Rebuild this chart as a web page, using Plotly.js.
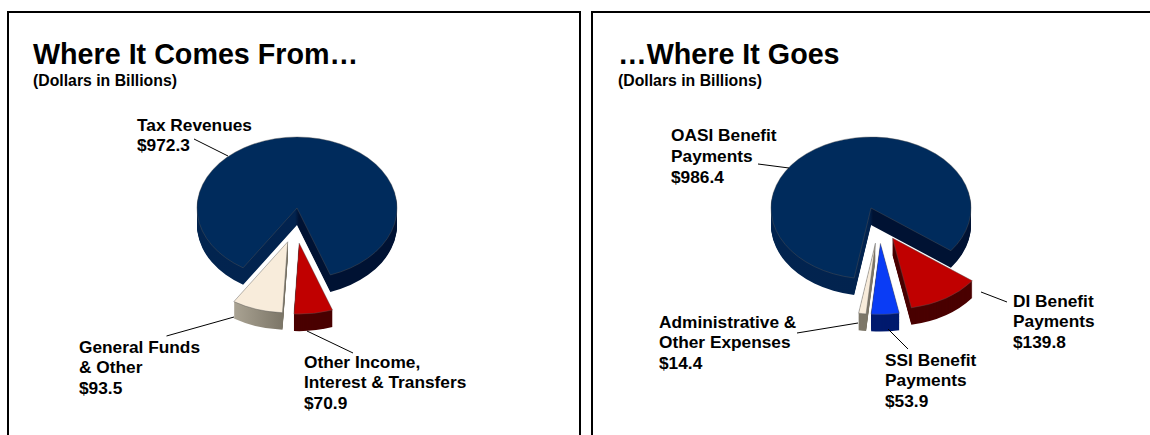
<!DOCTYPE html>
<html>
<head>
<meta charset="utf-8">
<script src="https://cdn.plot.ly/plotly-3.0.1.min.js"></script>
<style>html,body{margin:0;padding:0;background:#fff;overflow:hidden}</style>
</head>
<body>
<div id="chart" style="width:1150px;height:435px"></div>
<script>
// Data
const incomeLabels = ["Tax Revenues", "Other Income,<br>Interest & Transfers", "General Funds<br>& Other"];
const incomeValues = [972.3, 70.9, 93.5];
const costLabels = ["OASI Benefit<br>Payments", "DI Benefit<br>Payments", "SSI Benefit<br>Payments", "Administrative &<br>Other Expenses"];
const costValues = [986.4, 139.8, 53.9, 14.4];

// Styling
const incomeTop = ["#002b5c", "#c00000", "#f8ecdb"];
const incomeWall = ["url(#wallNavy)", "#4a0000", "url(#wallCream)"];
const incomePull = [0, 0.5, 0.5];
const incomeNudge = [0, -5, 6];
const costTop = ["#002b5c", "#c00000", "#0a3cf5", "#f8ecdb"];
const costWall = ["url(#wallNavy)", "#4a0000", "#001a6e", "#7d7769"];
const costPull = [0, 0.5, 0.5, 0.5];
const costNudge = [0, -5, 7, 11];

const W = 1150, H = 435, R = 100, DEPTH = 17, FLAT = 0.71, LINE = 20.8;
const px = x => x / W, py = y => 1 - y / H;

const pies = [
  {labels: incomeLabels, values: incomeValues, top: incomeTop, wall: incomeWall, pull: incomePull, nudge: incomeNudge, cx: 297, cy: 208, rotation: 212.6},
  {labels: costLabels, values: costValues, top: costTop, wall: costWall, pull: costPull, nudge: costNudge, cx: 871, cy: 208, rotation: 189.7}
];

const traces = [], meta = [];
pies.forEach(p => {
  const half = R * 1.5;
  for (let k = DEPTH; k >= 0; k--) {
    traces.push({
      type: "pie", labels: p.labels, values: p.values, sort: false, direction: "clockwise",
      rotation: p.rotation, pull: p.pull, textinfo: "none", hoverinfo: "skip", showlegend: false,
      domain: {x: [px(p.cx - half), px(p.cx + half)], y: [py(p.cy + half), py(p.cy - half)]},
      marker: {
        colors: k === 0 ? p.top : p.top.map(() => "#001233"),
        line: {width: k === 0 ? 0.5 : 0, color: "#555"}
      }
    });
    meta.push({k, p});
  }
});

const panel = (x0, x1) => ({type: "rect", xref: "paper", yref: "paper",
  x0: px(x0), x1: px(x1), y0: py(12), y1: py(445), line: {color: "#000", width: 2}, fillcolor: "rgba(0,0,0,0)", layer: "below"});
const leader = (x0, y0, x1, y1) => ({type: "line", xref: "paper", yref: "paper",
  x0: px(x0), y0: py(y0), x1: px(x1), y1: py(y1), line: {color: "#000", width: 1}});

const shapes = [
  panel(8, 580), panel(592, 1165),
  leader(194, 139, 228, 156), leader(166.5, 336, 234, 317), leader(307, 331, 353, 353),
  leader(758, 164, 789, 168), leader(981, 292, 1007, 302), leader(888, 329, 908, 349), leader(797, 333, 858, 323)
];

const FONT = "Liberation Sans, Arial, sans-serif";
const note = (x, y, text, size) => ({xref: "paper", yref: "paper", x: px(x), y: py(y), xanchor: "left", yanchor: "middle",
  align: "left", showarrow: false, borderpad: 0, text: "<b>" + text + "</b>", font: {family: FONT, size, color: "#000"}});
// each label line is placed on its own so the size and the line spacing can both follow the reference
const block = (x, y, label, value) =>
  (label + "<br>$" + value.toFixed(1)).split("<br>").map((t, i) => note(x, y + i * LINE, t, 17.3));

const annotations = [
  note(32, 54.5, "Where It Comes From…", 28.7),
  note(32, 80, "(Dollars in Billions)", 15.8),
  note(617, 54.5, "…Where It Goes", 28.7),
  note(617, 80, "(Dollars in Billions)", 15.8),
  ...block(136, 124.5, incomeLabels[0], incomeValues[0]),
  ...block(303, 361.5, incomeLabels[1], incomeValues[1]),
  ...block(78, 346.5, incomeLabels[2], incomeValues[2]),
  ...block(670, 135.5, costLabels[0], costValues[0]),
  ...block(1012, 300.5, costLabels[1], costValues[1]),
  ...block(884, 359.5, costLabels[2], costValues[2]),
  ...block(658, 321.5, costLabels[3], costValues[3])
];

const layout = {
  width: W, height: H, margin: {l: 0, r: 0, t: 0, b: 0},
  paper_bgcolor: "#fff", plot_bgcolor: "#fff", showlegend: false,
  shapes, annotations
};

Plotly.newPlot("chart", traces, layout, {staticPlot: true, displayModeBar: false}).then(gd => {
  const svg = gd.querySelector("svg.main-svg");
  const ns = "http://www.w3.org/2000/svg";
  const defs = document.createElementNS(ns, "defs");
  const grad = (id, stops) => {
    const g = document.createElementNS(ns, "linearGradient");
    g.setAttribute("id", id);
    stops.forEach(([o, c]) => {
      const s = document.createElementNS(ns, "stop");
      s.setAttribute("offset", o); s.setAttribute("stop-color", c);
      g.appendChild(s);
    });
    defs.appendChild(g);
  };
  grad("wallNavy", [[0, "#02244f"], [0.49, "#02234f"], [0.51, "#001233"], [1, "#001233"]]);
  grad("wallCream", [[0, "#aaa393"], [1, "#777163"]]);
  svg.insertBefore(defs, svg.firstChild);

  gd.querySelectorAll(".pielayer .trace").forEach((g, i) => {
    const {k, p} = meta[i];
    g.setAttribute("transform", `translate(0,${p.cy + k}) scale(1,${FLAT}) translate(0,${-p.cy})`);
    g.querySelectorAll(".slice").forEach((s, j) => {
      s.setAttribute("transform", `translate(${p.nudge[j]},0)`);
      if (k > 0) {
        const path = s.querySelector("path.surface");
        path.style.fill = p.wall[j];
      }
    });
  });
});
</script>
</body>
</html>
